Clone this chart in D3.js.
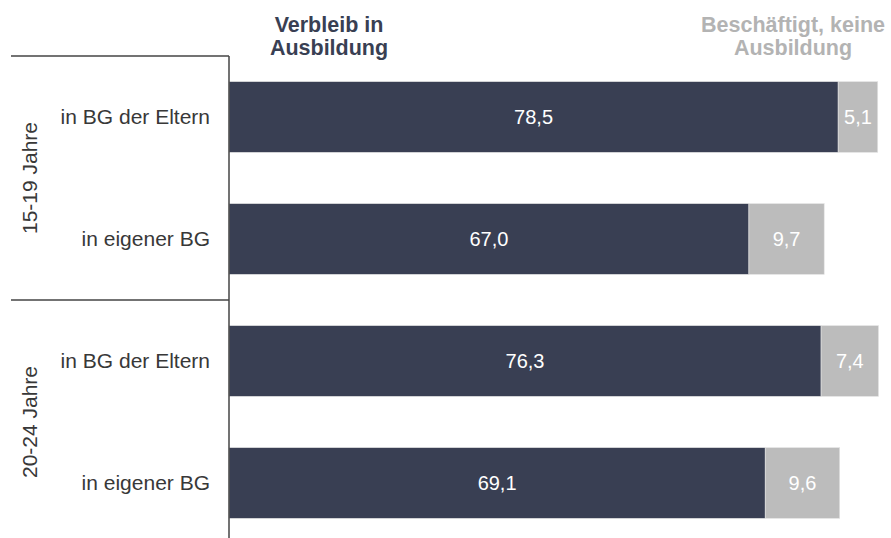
<!DOCTYPE html>
<html><head><meta charset="utf-8">
<script src="https://cdn.jsdelivr.net/npm/d3@7"></script>
<style>body{margin:0;background:#fff}svg{display:block;font-family:"Liberation Sans",Arial,sans-serif}</style>
</head><body><svg id="c" width="891" height="538"></svg>
<script>
const categories = ["in BG der Eltern", "in eigener BG", "in BG der Eltern", "in eigener BG"];
const groups = ["15-19 Jahre", "15-19 Jahre", "20-24 Jahre", "20-24 Jahre"];
const groupNames = ["15-19 Jahre", "20-24 Jahre"];
const seriesNames = ["Verbleib in\nAusbildung", "Beschäftigt, keine\nAusbildung"];
const ausbildung = [78.5, 67.0, 76.3, 69.1];
const beschaeftigt = [5.1, 9.7, 7.4, 9.6];
const colors = ["#393f53", "#bcbcbc"];
const headerColors = ["#393f53", "#b3b3b3"];

const svg = d3.select("#c");
const ids = categories.map((d, i) => i);
const x = d3.scaleLinear().domain([0, 100]).range([229, 229 + 776]);
const y = d3.scaleBand().domain(ids).range([56, 544]).paddingInner(0.42).paddingOuter(0.21);

const stack = d3.stack().keys([0, 1]).value((d, k) => k === 0 ? ausbildung[d] : beschaeftigt[d]);
const layers = stack(ids);

layers.forEach((layer, k) => {
  const g = svg.append("g");
  g.selectAll("rect").data(layer).join("rect")
    .attr("x", d => x(d[0])).attr("y", (d, i) => y(ids[i]))
    .attr("width", d => x(d[1]) - x(d[0])).attr("height", y.bandwidth())
    .attr("fill", colors[k]).attr("stroke", "#e4e4e4").attr("stroke-width", 0.6);
  g.selectAll("text").data(layer).join("text")
    .attr("x", d => (x(d[0]) + x(d[1])) / 2).attr("y", (d, i) => y(ids[i]) + y.bandwidth() / 2)
    .attr("dy", "0.36em").attr("text-anchor", "middle").attr("fill", "#fff")
    .attr("font-size", 20)
    .text(d => d3.format(".1f")(d[1] - d[0]).replace(".", ","));
});

// headers
const hx = [329, 793];
seriesNames.forEach((s, k) => {
  const t = svg.append("text").attr("text-anchor", "middle").attr("font-weight", "bold")
    .attr("font-size", 21.5).attr("fill", headerColors[k]);
  s.split("\n").forEach((line, j) => {
    t.append("tspan").attr("x", hx[k]).attr("y", 32 + j * 23).text(line);
  });
});

// category axis
const axis = d3.axisLeft(y).tickSize(0).tickPadding(19).tickFormat(i => categories[i]);
const ag = svg.append("g").attr("transform", "translate(229,0)").call(axis);
ag.select(".domain").remove();
ag.selectAll("text").attr("font-size", 21).attr("fill", "#383838").attr("font-family", "Liberation Sans, Arial, sans-serif");

svg.append("line").attr("x1", 229).attr("x2", 229).attr("y1", 56).attr("y2", 538)
  .attr("stroke", "#444").attr("stroke-width", 1.5);

// group separators and labels
groupNames.forEach((gname, gi) => {
  const members = ids.filter(i => groups[i] === gname);
  const sepY = gi === 0 ? 56 : (y(members[0]) + y(members[0] - 1) + y.bandwidth()) / 2;
  svg.append("line").attr("x1", 11).attr("x2", 229).attr("y1", sepY).attr("y2", sepY)
    .attr("stroke", "#444").attr("stroke-width", 1.5);
  const cy = (y(members[0]) + y(members[members.length - 1]) + y.bandwidth()) / 2;
  svg.append("text").attr("transform", `translate(37,${cy}) rotate(-90)`)
    .attr("text-anchor", "middle").attr("font-size", 21).attr("fill", "#383838").text(gname);
});
</script></body></html>
